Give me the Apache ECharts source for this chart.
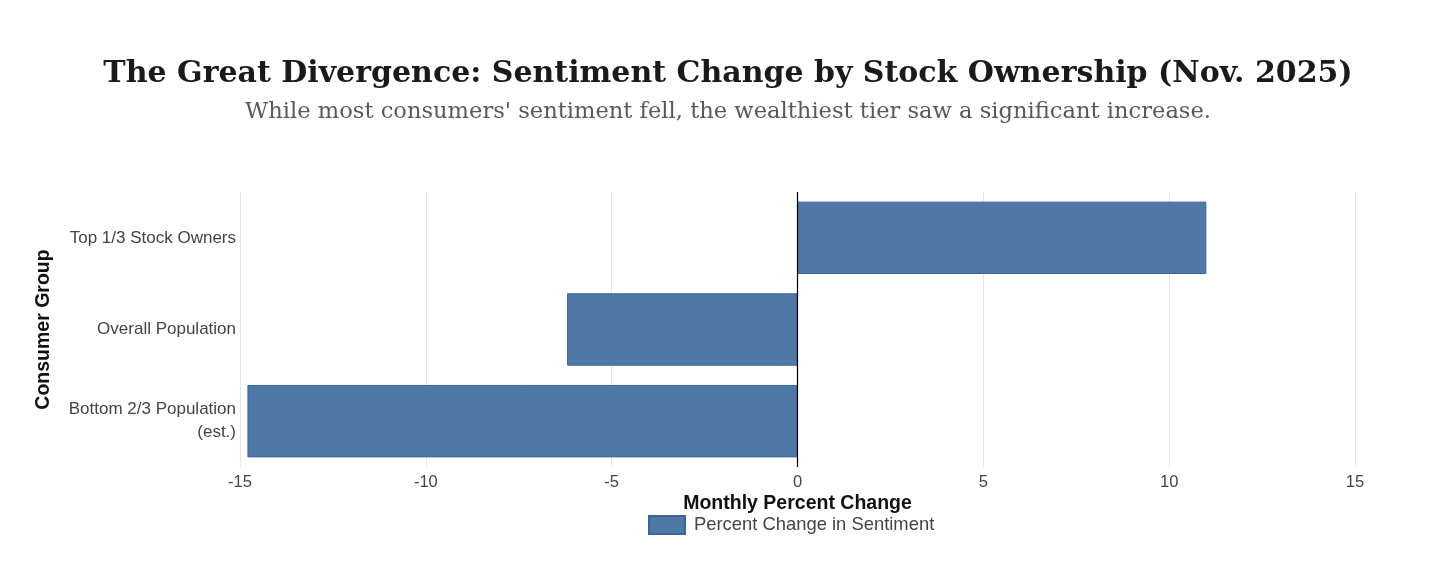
<!DOCTYPE html>
<html><head><meta charset="utf-8">
<script src="https://cdn.jsdelivr.net/npm/echarts@6/dist/echarts.min.js"></script>
<style>html,body{margin:0;padding:0;background:#fff}#c{width:1456px;height:569px}</style>
</head><body><div id="c"></div>
<script>
const categories = ["Bottom 2/3 Population\n(est.)", "Overall Population", "Top 1/3 Stock Owners"];
const values = [-14.8, -6.2, 11.0];
const xTicks = [-15, -10, -5, 0, 5, 10, 15];
const seriesName = "Percent Change in Sentiment";

const chart = echarts.init(document.getElementById('c'));
chart.setOption({
  animation: false,
  backgroundColor: '#fff',
  title: [{
    text: 'The Great Divergence: Sentiment Change by Stock Ownership (Nov. 2025)',
    left: 'center', top: 54,
    textStyle: {fontFamily: 'DejaVu Serif', fontWeight: 'bold', fontSize: 30, color: '#1a1a1a'}
  }, {
    text: "While most consumers' sentiment fell, the wealthiest tier saw a significant increase.",
    left: 'center', top: 96,
    textStyle: {fontFamily: 'DejaVu Serif', fontWeight: 'normal', fontSize: 22.6, color: '#555a62'}
  }],
  legend: {
    data: [seriesName], bottom: 34, left: 648, padding: 0,
    itemWidth: 36, itemHeight: 18, icon: 'rect',
    textStyle: {fontFamily: 'Liberation Sans', fontSize: 18.4, color: '#444', padding: [0, 0, 0, 4]}
  },
  grid: {left: 240, right: 101, top: 192, bottom: 102},
  xAxis: {
    type: 'value', min: -15, max: 15, interval: 5,
    name: 'Monthly Percent Change', nameLocation: 'middle', nameGap: 27,
    nameTextStyle: {fontFamily: 'Liberation Sans', fontWeight: 'bold', fontSize: 19.5, color: '#111'},
    axisLine: {show: false}, axisTick: {show: false},
    axisLabel: {fontFamily: 'Liberation Sans', fontSize: 16.5, color: '#444', margin: 7,
      formatter: v => xTicks.includes(v) ? String(v) : ''},
    splitLine: {show: true, lineStyle: {color: '#e6e6e6', width: 1}}
  },
  yAxis: {
    type: 'category', data: categories,
    name: 'Consumer Group', nameLocation: 'middle', nameGap: 186, nameRotate: 90,
    nameTextStyle: {fontFamily: 'Liberation Sans', fontWeight: 'bold', fontSize: 19.5, color: '#111'},
    axisLine: {show: false}, axisTick: {show: false},
    axisLabel: {fontFamily: 'Liberation Sans', fontSize: 17, color: '#444', margin: 4, lineHeight: 23, align: 'right'},
    splitLine: {show: false}
  },
  series: [{
    name: seriesName, type: 'bar', data: values, barWidth: '79%',
    itemStyle: {color: '#4e79a7', borderColor: '#3b6597', borderWidth: 1},
    markLine: {
      silent: true, symbol: 'none', label: {show: false},
      lineStyle: {color: '#000', type: 'solid', width: 1.2},
      data: [{xAxis: 0}]
    }
  }]
});
</script></body></html>
